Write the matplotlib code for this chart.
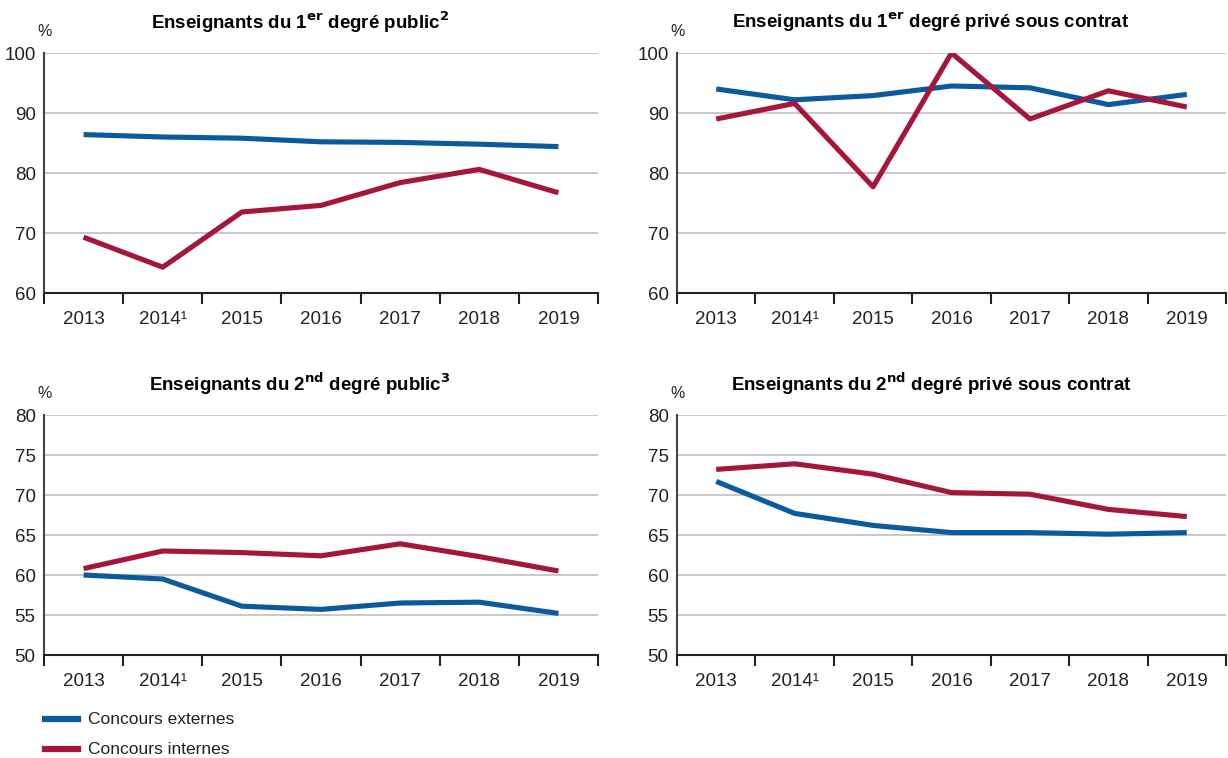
import numpy as np
import matplotlib
matplotlib.use('Agg')
import matplotlib.pyplot as plt

plt.rcParams['font.family'] = ['Liberation Sans Narrow', 'Liberation Sans', 'DejaVu Sans']
plt.rcParams['mathtext.fontset'] = 'custom'
plt.rcParams['mathtext.rm'] = 'Liberation Sans Narrow'
plt.rcParams['mathtext.bf'] = 'Liberation Sans Narrow:bold'

annees = ['2013', '2014¹', '2015', '2016', '2017', '2018', '2019']

# 1er degre public
ext_1_pub = [86.4, 86.0, 85.8, 85.2, 85.1, 84.8, 84.4]
int_1_pub = [69.3, 64.3, 73.5, 74.6, 78.4, 80.6, 76.7]
# 1er degre prive
ext_1_priv = [94.0, 92.2, 92.9, 94.5, 94.2, 91.4, 93.1]
int_1_priv = [89.0, 91.6, 77.7, 100.0, 89.0, 93.7, 91.0]
# 2nd degre public
ext_2_pub = [60.0, 59.5, 56.1, 55.7, 56.5, 56.6, 55.2]
int_2_pub = [60.8, 63.0, 62.8, 62.4, 63.9, 62.3, 60.5]
# 2nd degre prive
ext_2_priv = [71.7, 67.7, 66.2, 65.3, 65.3, 65.1, 65.3]
int_2_priv = [73.2, 73.9, 72.6, 70.3, 70.1, 68.2, 67.3]

titres = [r'Enseignants du 1$^{\mathbf{er}}$ degré public$^{\mathbf{2}}$',
          r'Enseignants du 1$^{\mathbf{er}}$ degré privé sous contrat',
          r'Enseignants du 2$^{\mathbf{nd}}$ degré public$^{\mathbf{3}}$',
          r'Enseignants du 2$^{\mathbf{nd}}$ degré privé sous contrat']

bleu = '#0b5a9e'
rouge = '#a5173a'

fig = plt.figure(figsize=(12.28, 7.58), dpi=100)
W, H = 1228, 758

# (left, top, right, bottom) en pixels
boites = [(44, 53, 598, 293), (677, 53, 1226, 293),
          (44, 415, 598, 655), (677, 415, 1226, 655)]
centres_titre = [300, 931, 300, 931]
donnees = [(ext_1_pub, int_1_pub), (ext_1_priv, int_1_priv),
           (ext_2_pub, int_2_pub), (ext_2_priv, int_2_priv)]
echelles = [(60, 100, 10), (60, 100, 10), (50, 80, 5), (50, 80, 5)]

x = np.arange(len(annees))

for k in range(4):
    l, t, r, b = boites[k]
    ax = fig.add_axes([l / W, 1 - b / H, (r - l) / W, (b - t) / H])
    ext, inte = donnees[k]
    ax.plot(x, ext, color=bleu, lw=3.7, solid_capstyle='butt', zorder=3)
    ax.plot(x, inte, color=rouge, lw=3.7, solid_capstyle='butt', zorder=3)

    ymin, ymax, pas = echelles[k]
    ax.set_ylim(ymin, ymax)
    ax.set_yticks(np.arange(ymin, ymax + 0.1, pas))
    ax.set_xlim(-0.5, len(annees) - 0.5)
    ax.set_xticks(x)
    ax.set_xticklabels(annees)
    ax.set_xticks(np.arange(-0.5, len(annees), 1), minor=True)

    ax.grid(axis='y', color='#c4c4c4', lw=1.3, zorder=0)
    ax.set_axisbelow(True)
    for s in ['top', 'right']:
        ax.spines[s].set_visible(False)
    ax.spines['left'].set_color('#444444')
    ax.spines['left'].set_linewidth(1.5)
    ax.spines['bottom'].set_color('#222222')
    ax.spines['bottom'].set_linewidth(1.5)

    ax.tick_params(axis='y', length=0, pad=6, labelsize=13.5, colors='#222222')
    ax.tick_params(axis='x', which='major', length=0, pad=13, labelsize=13.5,
                   colors='#222222')
    ax.tick_params(axis='x', which='minor', length=8, width=1.5, color='#222222')

    fig.text(centres_titre[k] / W, 1 - (t - 31) / H, titres[k], ha='center',
             va='center', fontsize=13.5, fontweight='bold')
    fig.text((l + 1) / W, 1 - (t - 21) / H, '%', ha='center', va='center',
             fontsize=11.5, color='#222222')

# legende
fig.lines.append(plt.Line2D([45 / W, 78 / W], [1 - 719 / H, 1 - 719 / H],
                            color=bleu, lw=4.5, transform=fig.transFigure))
fig.lines.append(plt.Line2D([45 / W, 78 / W], [1 - 749 / H, 1 - 749 / H],
                            color=rouge, lw=4.5, transform=fig.transFigure))
fig.text(88 / W, 1 - 719 / H, 'Concours externes', va='center', fontsize=12.5,
         color='#222222')
fig.text(88 / W, 1 - 749 / H, 'Concours internes', va='center', fontsize=12.5,
         color='#222222')

fig.savefig('out.png', dpi=100)
